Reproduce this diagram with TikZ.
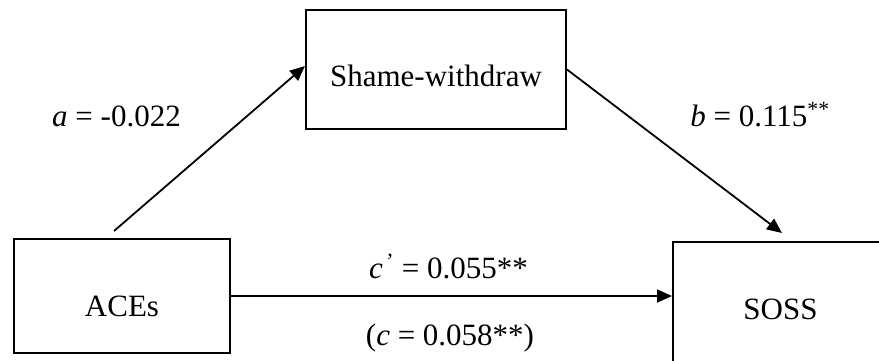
\documentclass[tikz,border=0pt]{standalone}
\usepackage{fontspec}
\setmainfont{Liberation Serif}
\usetikzlibrary{arrows.meta,calc}
\begin{document}
\begin{tikzpicture}[x=1pt,y=-1pt,
  every node/.style={font=\fontsize{31}{37}\selectfont},
  box/.style={draw, line width=2pt, rectangle, inner sep=0pt, text depth=0pt},
  conn/.style={line width=1.8pt, -{Triangle[length=15pt,width=13pt]}},
  lbl/.style={anchor=base, inner sep=0pt}]
\useasboundingbox (0,0) rectangle (879,360);
\clip (0,0) rectangle (879,360);
\node[box, minimum width=260pt, minimum height=119pt, text height=34.4pt] (Shame) at (436,69.5) {Shame-withdraw};
\node[box, minimum width=216pt, minimum height=114pt, text height=41.4pt] (ACEs) at (122,296) {ACEs};
\node[box, minimum width=215pt, minimum height=140pt, text height=14pt] (SOSS) at (780.5,312) {SOSS};
\coordinate (aStart) at (114,231);
\coordinate (bEnd) at (782,233);
\draw[conn] (aStart) -- ($(Shame.west)+(0,-3.5)$);
\draw[conn] (Shame.east) -- (bEnd);
\draw[conn] (ACEs.east) -- (ACEs.east -| SOSS.west);
\node[lbl] (la) at (116.5,126.7) {\textit{a} = -0.022};
\node[lbl] (lb) at (760,126) {\textit{b} = 0.115\textsuperscript{**}};
\node[lbl] (lc1) at (448.5,278) {\textit{c}\textsuperscript{\,'} = 0.055**};
\node[lbl] (lc2) at (450,345) {(\textit{c} = 0.058**)};
\end{tikzpicture}
\end{document}
